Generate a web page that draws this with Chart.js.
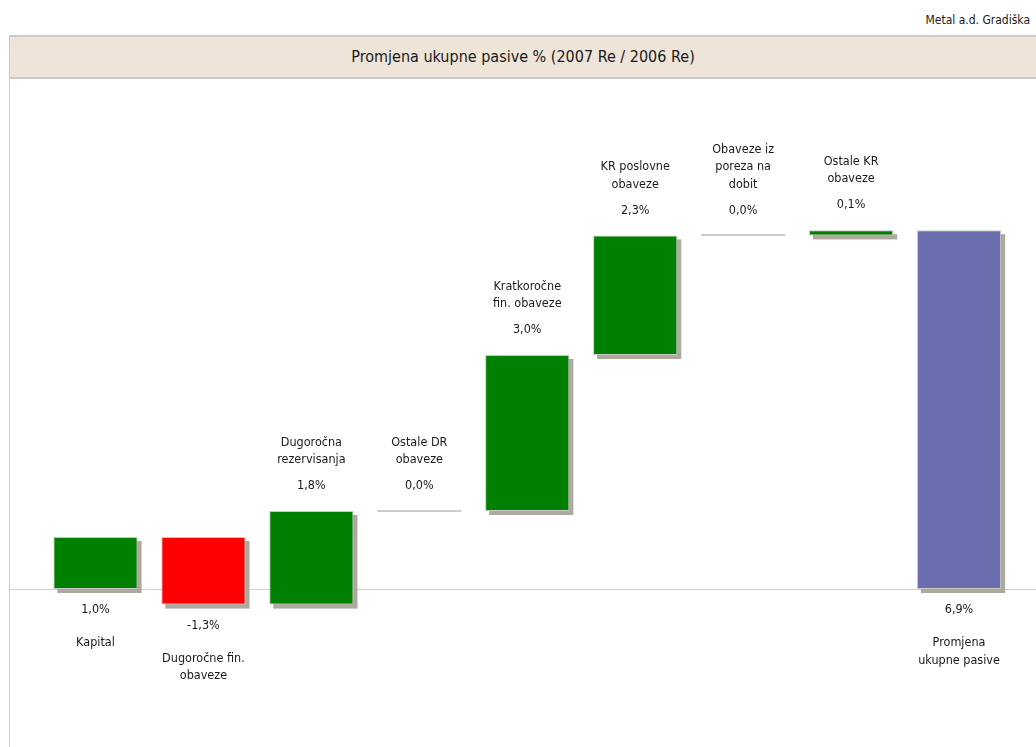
<!DOCTYPE html>
<html>
<head>
<meta charset="utf-8">
<script src="https://cdn.jsdelivr.net/npm/chart.js@4/dist/chart.umd.min.js"></script>
<style>
  html, body { margin: 0; padding: 0; background: #fff; }
  body { width: 1036px; height: 747px; position: relative; overflow: hidden;
         font-family: "DejaVu Sans Condensed", "DejaVu Sans", sans-serif; }
  #company { position: absolute; right: 6px; top: 13px; font-size: 12px; color: #1a1a1a; }
  #band { position: absolute; left: 9px; top: 35px; right: 0; height: 40px;
          background: #EEE4D8; border-top: 2px solid #CACACA; border-bottom: 2px solid #CACACA;
          border-left: 1px solid #CACACA;
          text-align: center; line-height: 40px; font-size: 16px; color: #1a1a1a; }
  #chartBox { position: absolute; left: 0; top: 0; width: 1036px; height: 747px; }
</style>
</head>
<body>
<div id="company">Metal a.d. Gradiška</div>
<div id="band">Promjena ukupne pasive % (2007 Re / 2006 Re)</div>
<div id="chartBox"><canvas id="waterfall"></canvas></div>
<script>
// ================== Podaci ==================
const categories = [
  ["Kapital"],
  ["Dugoročne fin.", "obaveze"],
  ["Dugoročna", "rezervisanja"],
  ["Ostale DR", "obaveze"],
  ["Kratkoročne", "fin. obaveze"],
  ["KR poslovne", "obaveze"],
  ["Obaveze iz", "poreza na", "dobit"],
  ["Ostale KR", "obaveze"],
  ["Promjena", "ukupne pasive"]
];
const changes = [1.0, -1.3, 1.8, 0.0, 3.0, 2.3, 0.0, 0.1, 6.9]; // zadnja = ukupno
const labelSide = ["below", "below", "above", "above", "above", "above", "above", "above", "below"];

// waterfall: [od, do] za svaku kategoriju
let running = 0;
const ranges = changes.map((v, i) => {
  if (i === changes.length - 1) return [0, v];
  let r = [running, running + v];
  running += v;
  return r;
});
const barColors = changes.map((v, i) => {
  if (i === changes.length - 1) return "#6A6EAE";
  return v < 0 ? "#FF0000" : "#008000";
});

function fmt(v) {
  return v.toFixed(1).replace(".", ",") + "%";
}

// ================== Plugin: okvir, sjene, natpisi ==================
const waterfallDeco = {
  id: "waterfallDeco",
  beforeDatasetsDraw(chart) {
    const ctx = chart.ctx;
    const y = chart.scales.y;
    const zero = Math.round(y.getPixelForValue(0)) + 0.5;
    ctx.save();
    // lijeva linija i nulta linija
    ctx.strokeStyle = "#D0D0D0";
    ctx.lineWidth = 1;
    ctx.beginPath();
    ctx.moveTo(9.5, 77);
    ctx.lineTo(9.5, chart.height);
    ctx.moveTo(9, zero);
    ctx.lineTo(chart.width, zero);
    ctx.stroke();
    // sjene
    const meta = chart.getDatasetMeta(0);
    ctx.fillStyle = "#ADA99C";
    meta.data.forEach((bar, i) => {
      if (changes[i] === 0) return;
      const top = Math.min(bar.y, bar.base);
      const h = Math.abs(bar.base - bar.y);
      ctx.fillRect(bar.x - bar.width / 2 + 4, top + 4, bar.width, h);
    });
    ctx.restore();
  },
  afterDatasetsDraw(chart) {
    const ctx = chart.ctx;
    const meta = chart.getDatasetMeta(0);
    ctx.save();
    ctx.font = "12.5px 'DejaVu Sans Condensed', 'DejaVu Sans', sans-serif";
    ctx.fillStyle = "#1a1a1a";
    ctx.textAlign = "center";
    ctx.textBaseline = "middle";
    meta.data.forEach((bar, i) => {
      const top = Math.min(bar.y, bar.base);
      const bottom = Math.max(bar.y, bar.base);
      const lines = categories[i];
      // linija za nulte promjene
      if (changes[i] === 0) {
        ctx.fillStyle = "#CCCCCC";
        ctx.fillRect(bar.x - bar.width / 2, Math.round(top) - 1, bar.width, 2);
        ctx.fillStyle = "#1a1a1a";
      }
      if (labelSide[i] === "above") {
        const vy = top - 25;
        ctx.fillText(fmt(changes[i]), bar.x, vy);
        const lastY = vy - 26;
        lines.forEach((t, k) => {
          ctx.fillText(t, bar.x, lastY - (lines.length - 1 - k) * 17.5);
        });
      } else {
        const vy = bottom + 21;
        ctx.fillText(fmt(changes[i]), bar.x, vy);
        lines.forEach((t, k) => {
          ctx.fillText(t, bar.x, vy + 33 + k * 17.5);
        });
      }
    });
    ctx.restore();
  }
};

// ================== Grafikon ==================
new Chart(document.getElementById("waterfall"), {
  type: "bar",
  data: {
    labels: categories.map(c => c.join(" ")),
    datasets: [{
      data: ranges,
      backgroundColor: barColors,
      borderColor: "#C8C8C8",
      borderWidth: changes.map(v => v === 0 ? 0 : 1),
      borderSkipped: false,
      barPercentage: 0.78,
      categoryPercentage: 1.0
    }]
  },
  options: {
    responsive: true,
    maintainAspectRatio: false,
    animation: false,
    layout: { padding: { left: 41.5, right: 23, top: 147, bottom: 2 } },
    plugins: {
      legend: { display: false },
      tooltip: { enabled: false },
      title: { display: false }
    },
    scales: {
      x: { display: false },
      y: { display: false, min: -3, max: 8.5 }
    }
  },
  plugins: [waterfallDeco]
});
</script>
</body>
</html>
